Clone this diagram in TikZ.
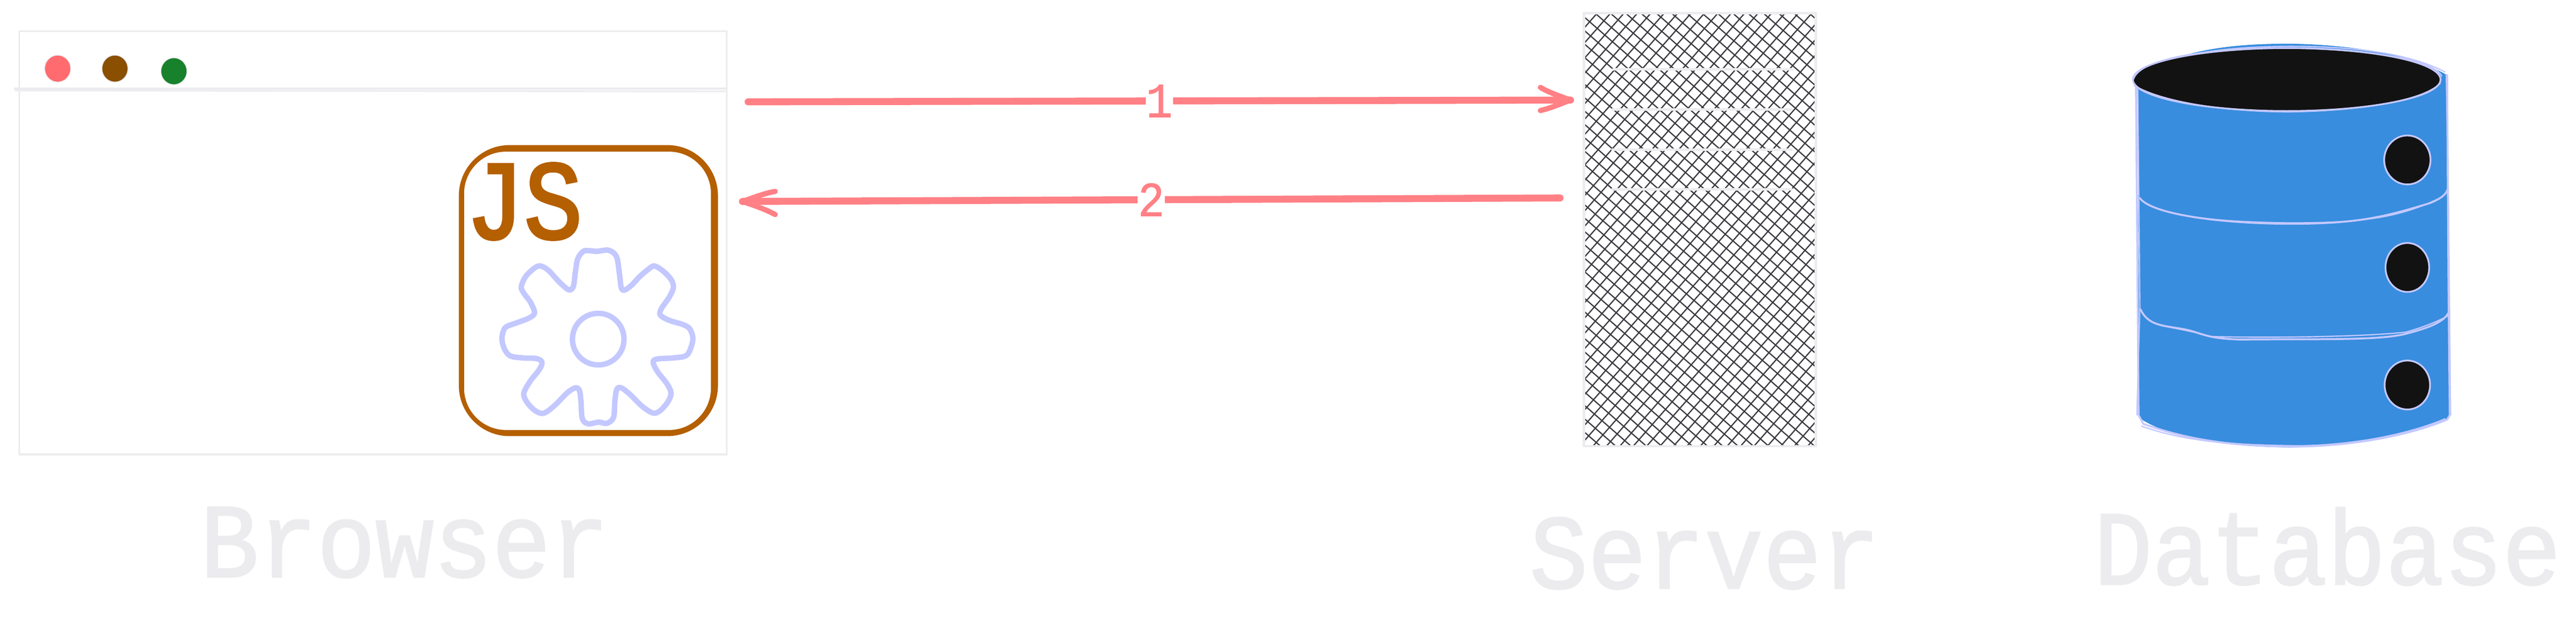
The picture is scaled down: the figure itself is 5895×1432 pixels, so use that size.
\documentclass[tikz,border=0pt]{standalone}
\usepackage{fontspec}
\setmainfont{Liberation Mono}
\newfontfamily\capsfont[FakeStretch=0.92,FakeBold=1.6]{Liberation Mono}
\newfontfamily\numfont[FakeStretch=0.9,FakeBold=1.2]{Liberation Mono}
\newfontfamily\jsfont[FakeStretch=0.86,FakeBold=2.4]{Liberation Mono}
\definecolor{ghost}{HTML}{ECEBEE}
\definecolor{salmon}{HTML}{FF8085}
\definecolor{amber}{HTML}{B45F00}
\definecolor{lilac}{HTML}{C3C8FF}
\definecolor{inkdark}{HTML}{121212}
\definecolor{hatch}{HTML}{3A3A40}
\definecolor{dbblue}{HTML}{388DDE}
\tikzset{
  ghostline/.style={draw=ghost,line width=2pt},
  dot/.style={draw=ghost,line width=1pt},
  bigtitle/.style={text=ghost,inner sep=0pt,anchor=base,font=\capsfont\fontsize{121}{121}\selectfont},
  numlabel/.style={text=salmon,fill=white,inner sep=0pt,minimum width=31pt,font=\numfont\fontsize{56}{56}\selectfont},
  arrowshaft/.style={draw=salmon,line width=8pt,line cap=round},
  arrowbarb/.style={draw=salmon,line width=6pt,line cap=round,line join=round},
  gearline/.style={draw=lilac,line width=6.2pt,line join=round},
  hatchline/.style={draw=hatch,line width=1.4pt},
  slot/.style={draw=ghost,line width=3pt,line cap=round},
  sketch/.style={draw=lilac,line width=2.2pt,line join=round},
  sketchthin/.style={draw=lilac,line width=1.4pt,line join=round},
  lampblack/.style={fill=inkdark,draw=lilac,line width=2pt},
}
\begin{document}
\begin{tikzpicture}[x=0.5pt,y=-0.5pt]
\useasboundingbox (0,0) rectangle (5895,1432);
\fill[white] (0,0) rectangle (5895,1432);

% ---------- browser window
\draw[ghostline] (44,71) rectangle (1663,1040);
\draw[ghostline] (32,203) -- (1665,203);
\draw[ghostline] (34,207) -- (1660,209);
\draw[dot,fill={rgb,255:red,255;green,107;blue,110}] (132,157) ellipse (30 and 31);
\draw[dot,fill={rgb,255:red,138;green,79;blue,0}] (263,157) ellipse (30 and 31);
\draw[dot,fill={rgb,255:red,23;green,129;blue,43}] (398,163) ellipse (30 and 31);

% JS box: band between two rounded outlines
\fill[amber,even odd rule]
  [rounded corners=58pt] (1050,332) rectangle (1643,998)
  [rounded corners=48pt] (1062,347) rectangle (1627,984);
\node[text=amber,inner sep=0pt,anchor=base west,font=\jsfont\fontsize{129}{129}\selectfont] (jslabel) at (1066,546) {JS};

% gear
\begin{scope}[xshift=500pt,yshift=-150pt,x=0.2232pt,y=-0.2392pt]
\draw[gearline] plot[smooth cycle,tension=0.55] coordinates {
(820,575)(880,570)(920,600)(935,680)(945,750)(963,760)(1000,735)(1040,695)(1085,660)(1115,645)
(1160,670)(1200,710)(1212,748)(1190,795)(1150,850)(1145,880)(1190,905)(1260,925)(1295,945)(1312,990)
(1300,1040)(1275,1075)(1210,1085)(1130,1090)(1108,1105)(1130,1150)(1180,1210)(1200,1255)(1180,1300)(1140,1340)
(1105,1348)(1050,1315)(990,1260)(945,1228)(922,1235)(912,1290)(905,1370)(870,1398)(830,1392)(775,1400)
(745,1375)(738,1290)(730,1240)(710,1228)(670,1250)(600,1315)(545,1350)(500,1335)(460,1295)(445,1255)
(475,1200)(525,1140)(538,1105)(510,1088)(440,1085)(375,1075)(345,1040)(333,990)(350,940)(400,920)
(470,895)(500,870)(480,820)(445,775)(432,745)(455,695)(500,655)(530,645)(570,665)(620,715)
(660,750)(682,760)(700,740)(710,670)(722,610)(750,575)(780,572)};
\end{scope}
\draw[gearline] (1369,776) circle (59);

% ---------- server
\begin{scope}
\clip (3624.5,30) rectangle (4155,1021);
\foreach \i in {-25,...,22} {
  \draw[hatchline] ({4387.5+30.7*\i},0) -- ++({-1100/1.14},1100);
}
\foreach \i in {-8,...,42} {
  \draw[hatchline] ({2705.8+35*\i},0) -- ++({1100/0.875},1100);
}
\end{scope}
\draw[draw=ghost,line width=2.8pt,line join=round] (3624.5,30) rectangle (4155,1021);
\draw[slot] (3692,159) -- (4102,159);
\draw[slot] (3690,251) -- (4100,251);
\draw[slot] (3690,342) -- (4100,342);
\draw[slot] (3690,433) -- (4100,433);

% ---------- database
\fill[dbblue] (4892,170) .. controls (5000,110) and (5120,100) .. (5240,100)
  .. controls (5380,102) and (5520,125) .. (5600,172)
  -- (5606,955) .. controls (5560,985) and (5400,1020) .. (5240,1024)
  .. controls (5080,1022) and (4960,1000) .. (4895,956) -- cycle;
\draw[sketch] (4888,195) -- (4894,950) -- (4905,970) .. controls (4990,1000) and (5080,1020) .. (5240,1022)
  .. controls (5400,1022) and (5530,990) .. (5600,960) -- (5606,950) -- (5603,640) -- (5600,170);
\draw[sketchthin] (4892,195) -- (4897,700) -- (4890,950);
\draw[sketchthin] (4900,975) .. controls (5000,1010) and (5100,1018) .. (5260,1020)
  .. controls (5400,1018) and (5520,990) .. (5596,958);
\draw[sketchthin] (5608,950) -- (5603,450) -- (5598,170);
\draw[sketchthin] (4890,165) .. controls (5000,115) and (5120,107) .. (5240,106)
  .. controls (5380,106) and (5510,120) .. (5596,165);
\draw[lampblack] (5233,182) ellipse (352 and 72);
\draw[sketchthin] (4882,182) .. controls (4900,125) and (5100,108) .. (5240,110)
  .. controls (5380,112) and (5570,130) .. (5588,175);
\draw[sketchthin] (4883,195) .. controls (4950,235) and (5100,256) .. (5240,256)
  .. controls (5380,254) and (5540,235) .. (5585,190);
% band curves
\draw[sketch] (4896,452) .. controls (4920,490) and (5080,512) .. (5244,512)
  .. controls (5400,512) and (5460,495) .. (5560,465) .. controls (5585,455) and (5598,445) .. (5601,433);
\draw[sketchthin] (4900,458) .. controls (4960,500) and (5100,508) .. (5240,510)
  .. controls (5400,510) and (5490,500) .. (5590,450);
\draw[sketch] (4898,707) .. controls (4915,745) and (4950,745) .. (4990,752)
  .. controls (5040,760) and (5040,775) .. (5130,777) .. controls (5300,775) and (5440,780) .. (5505,764)
  .. controls (5550,752) and (5590,740) .. (5603,716);
\draw[sketchthin] (4902,715) .. controls (4920,750) and (4970,745) .. (5060,770)
  .. controls (5200,774) and (5420,770) .. (5505,760) .. controls (5550,748) and (5590,730) .. (5603,722);
% lamps
\draw[lampblack] (5509,366) ellipse (53 and 56);
\draw[lampblack] (5509,612) ellipse (50 and 56);
\draw[lampblack] (5509,881) ellipse (52 and 56);

% ---------- arrows
\coordinate (reqstart) at (1712,233);
\coordinate (reqend) at (3594,229);
\coordinate (reqbarba) at (3525,200);
\coordinate (reqbarbb) at (3525,253);
\coordinate (resstart) at (3570,453);
\coordinate (resend) at (1699,461);
\coordinate (resbarba) at (1774,438);
\coordinate (resbarbb) at (1774,491);
\draw[arrowshaft] (reqstart) -- (reqend) node[midway,numlabel] (labone) {1};
\draw[arrowbarb] (reqbarba) .. controls (3545,212) and (3570,220) .. (reqend)
  .. controls (3570,238) and (3550,247) .. (reqbarbb);
\draw[arrowshaft] (resstart) -- (resend) node[midway,numlabel] (labtwo) {2};
\draw[arrowbarb] (resbarba) .. controls (1750,442) and (1725,452) .. (resend)
  .. controls (1725,470) and (1750,478) .. (resbarbb);

% ---------- captions
\node[bigtitle] (capbrowser) at (926,1320) {Browser};
\node[bigtitle] (capserver) at (3901,1346) {Server};
\node[bigtitle] (capdb) at (5326,1337) {Database};
\end{tikzpicture}
\end{document}
